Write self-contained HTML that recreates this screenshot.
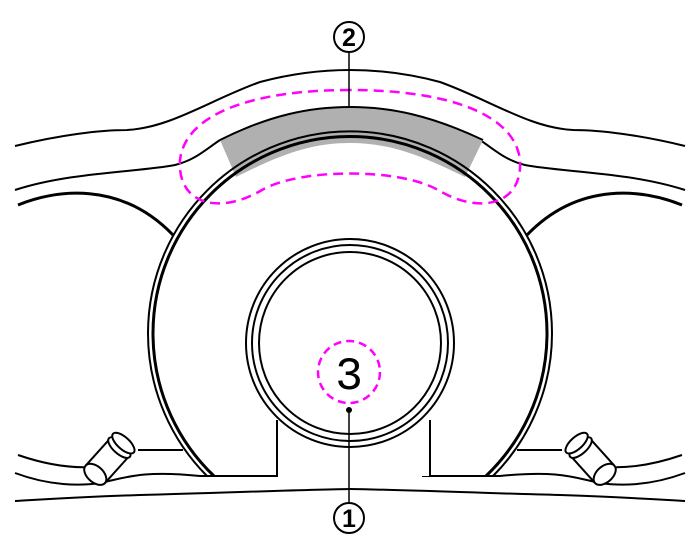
<!DOCTYPE html>
<html><head><style>html,body{margin:0;padding:0;background:#fff;}svg{display:block}</style></head>
<body>
<svg width="686" height="556" viewBox="0 0 686 556" xmlns="http://www.w3.org/2000/svg">
<rect width="686" height="556" fill="#fff"/>
<defs>
<g id="half" fill="none" stroke="#000">
  <path d="M15,146 C60,135 100,130 127,130 C170,128 210,100 260,82 C290,74 320,70 350,70" stroke-width="2"/>
  <path d="M15,190 C70,172 140,172 175,165 C195,160 205,150 220,140" stroke-width="2"/>
  <path d="M18,205 C55,190 120,180 173,235" stroke-width="3"/>
  <path d="M18,455 C50,466 75,468 92,467" stroke-width="2"/>
  <path d="M15,473 C50,486 80,486 100,483 C125,478 140,470 200,476" stroke-width="2"/>
  <path d="M15,501 C50,499 80,497 140,495 C220,493 290,490 350,489" stroke-width="2"/>
  <path d="M200,476 L277,476 L277,420" stroke-width="2"/>
  <path d="M138,450 L183,450" stroke-width="2"/>
  <g transform="translate(110,458) rotate(-48)" stroke-width="2" fill="#fff">
    <rect x="-22" y="-13" width="36" height="26" stroke="none"/>
    <line x1="-22" y1="-13" x2="14" y2="-13"/>
    <line x1="-22" y1="13" x2="14" y2="13"/>
    <ellipse cx="14" cy="0" rx="6" ry="14"/>
    <ellipse cx="20" cy="0" rx="6" ry="14"/>
    <ellipse cx="-22" cy="0" rx="8" ry="13"/>
  </g>
</g>
</defs>
<use href="#half"/>
<use href="#half" transform="translate(700,0) scale(-1,1)"/>
<path d="M220,140 C270,115 310,107 350,107 C390,107 430,115 483,140 L465,177 C420,155 390,143 350,143 C310,143 280,155 236,177 Z" fill="#b0b0b0"/>
<path d="M220,140 C270,115 310,107 350,107 C390,107 430,115 483,140" fill="none" stroke="#000" stroke-width="2"/>
<path d="M207,476 A202,202 0 1 1 493,476" fill="none" stroke="#000" stroke-width="2"/>
<path d="M214,476 A197,197 0 1 1 486,476" fill="none" stroke="#000" stroke-width="3"/>
<rect x="277" y="420" width="153" height="56" fill="#fff"/>
<path d="M277,420 L277,476 M430,420 L430,476 L500,476" stroke="#000" stroke-width="2" fill="none"/>
<circle cx="350" cy="343" r="104" fill="#fff" stroke="#000" stroke-width="2"/>
<circle cx="350" cy="343" r="98" fill="none" stroke="#000" stroke-width="2"/>
<circle cx="350" cy="343" r="91" fill="none" stroke="#000" stroke-width="2"/>
<path d="M350,90 C250,90 185,115 180,160 C177,205 220,215 262,190 C300,168 400,168 438,190 C480,215 523,205 520,160 C515,115 450,90 350,90 Z" fill="none" stroke="#ff00ff" stroke-width="2.5" stroke-dasharray="10,6"/>
<circle cx="349" cy="372" r="31" fill="none" stroke="#ff00ff" stroke-width="2.5" stroke-dasharray="8,5"/>
<text x="349" y="389" text-anchor="middle" font-family="Liberation Mono, monospace" font-size="46">3</text>
<circle cx="349" cy="410" r="3" fill="#000"/>
<line x1="349" y1="410" x2="349" y2="502" stroke="#000" stroke-width="1.5"/>
<line x1="349" y1="52" x2="349" y2="107" stroke="#000" stroke-width="1.5"/>
<circle cx="349" cy="37" r="15" fill="#fff" stroke="#000" stroke-width="2"/>
<text x="349" y="46" text-anchor="middle" font-family="Liberation Sans, sans-serif" font-weight="bold" font-size="25">2</text>
<circle cx="349" cy="518" r="15" fill="#fff" stroke="#000" stroke-width="2"/>
<text x="349" y="527" text-anchor="middle" font-family="Liberation Sans, sans-serif" font-weight="bold" font-size="25">1</text>
</svg>
</body></html>
